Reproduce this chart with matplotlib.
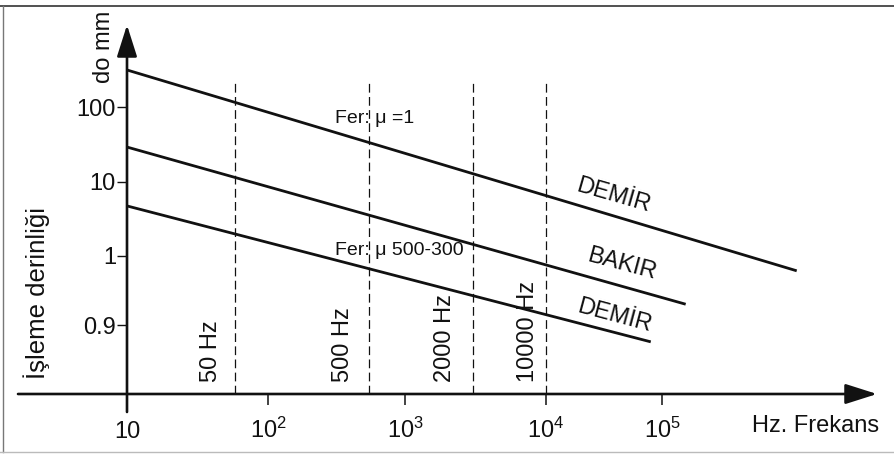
import numpy as np
import matplotlib
matplotlib.use('Agg')
from matplotlib import pyplot as plt
from matplotlib.lines import Line2D

plt.rcParams['font.family'] = ['Liberation Sans', 'DejaVu Sans']
plt.rcParams['mathtext.fontset'] = 'custom'
plt.rcParams['mathtext.rm'] = 'Liberation Sans'
plt.rcParams['mathtext.default'] = 'rm'

# skin depth lines (Hz, mm)
freq_start = [10, 10, 10]
freq_end = [1.45e6, 1.6e5, 8.0e4]
depth_start = [314, 29, 4.7]
depth_end = [0.61, 0.20, 0.057]
line_names = ['DEMİR', 'BAKIR', 'DEMİR']

# dashed frequency markers
mark_freq = [58, 546, 3035, 10000]
mark_labels = ['50 Hz', '500 Hz', '2000 Hz', '10000 Hz']
mark_top = 230
axis_depth = 0.01

x_ticks = [10, 1e2, 1e3, 1e4, 1e5]
x_tick_labels = ['10', '$10^2$', '$10^3$', '$10^4$', '$10^5$']
y_ticks = [0.1, 1, 10, 100]
y_tick_labels = ['0.9', '1', '10', '100']

# the decades in the drawing are not evenly spaced -> piecewise log scale
W, H = 894, 454
X_DEC = [0, 1, 2, 3, 4, 5, 7]
X_POS = [-14, 127, 268, 405, 546, 662, 894]
Y_DEC = [-3, -1, 0, 1, 2, 4]
Y_POS = [-9, 129, 198, 272.5, 347, 496]

def fwd_x(v):
    return np.interp(np.log10(np.maximum(v, 1e-12)), X_DEC, X_POS)

def inv_x(p):
    return 10 ** np.interp(p, X_POS, X_DEC)

def fwd_y(v):
    return np.interp(np.log10(np.maximum(v, 1e-12)), Y_DEC, Y_POS)

def inv_y(p):
    return 10 ** np.interp(p, Y_POS, Y_DEC)

def px(x, y):
    # pixel position of the scan -> axes fraction
    return x / W, 1 - y / H

fig = plt.figure(figsize=(W / 100, H / 100), dpi=100)
ax = fig.add_axes([0, 0, 1, 1])
ax.set_xscale('function', functions=(fwd_x, inv_x))
ax.set_yscale('function', functions=(fwd_y, inv_y))
ax.set_xlim(inv_x(0), inv_x(W))
ax.set_ylim(inv_y(0), inv_y(H))
for s in ax.spines.values():
    s.set_visible(False)
ax.spines['bottom'].set_position(('data', axis_depth))
ax.spines['left'].set_position(('data', 10))

ink = '#111111'
fs = 17
for i in range(3):
    ax.plot([freq_start[i], freq_end[i]], [depth_start[i], depth_end[i]],
            color=ink, lw=2.0, solid_capstyle='butt')

for f in mark_freq:
    ax.plot([f, f], [axis_depth, mark_top], color=ink, lw=0.9, ls=(0, (7, 3.5)))

# axes with arrow heads
arrow = dict(arrowstyle='-|>,head_length=1.95,head_width=0.62', lw=1.9,
             color=ink, mutation_scale=10, shrinkA=0, shrinkB=0)
ax.annotate('', xy=px(877, 394), xytext=px(18, 394), xycoords='axes fraction',
            arrowprops=arrow)
ax.annotate('', xy=px(127, 25), xytext=px(127, 412), xycoords='axes fraction',
            arrowprops=arrow)

ax.set_xticks(x_ticks, x_tick_labels, va='baseline', fontsize=fs, color=ink)
ax.set_yticks(y_ticks, y_tick_labels, fontsize=fs, color=ink)
ax.xaxis.set_minor_locator(matplotlib.ticker.NullLocator())
ax.yaxis.set_minor_locator(matplotlib.ticker.NullLocator())
ax.tick_params(axis='x', direction='out', length=8, width=1.1, pad=23.5, colors=ink)
ax.tick_params(axis='y', direction='out', length=7, width=1.0, pad=1, colors=ink)

T = ax.transAxes
ax.text(*px(37, 293), 'İşleme derinliği', transform=T, rotation=90,
        ha='center', va='center', fontsize=18.5, color=ink)
ax.text(*px(104, 47), 'do mm', transform=T, rotation=90,
        ha='center', va='center', fontsize=fs, color=ink)
ax.text(*px(752, 432), 'Hz. Frekans', transform=T, ha='left', va='baseline',
        fontsize=fs, color=ink)

ax.text(*px(335, 123), 'Fer: μ =1', transform=T, ha='left', va='baseline',
        fontsize=14, color=ink)
ax.text(*px(335, 255), 'Fer: μ 500-300', transform=T, ha='left', va='baseline',
        fontsize=14, color=ink)

name_pos = [(613, 196), (622, 264), (614, 316)]
name_rot = [-16, -15, -15]
for name, (x, y), r in zip(line_names, name_pos, name_rot):
    ax.text(*px(x, y), name, transform=T, rotation=r, rotation_mode='anchor',
            ha='center', va='center', fontsize=fs, color=ink)

mark_x = [211, 343, 445, 528]
for lab, x in zip(mark_labels, mark_x):
    ax.text(*px(x, 382), lab, transform=T, rotation=90, ha='center', va='bottom',
            fontsize=fs, color=ink)

# scan frame
fig.add_artist(Line2D([0, 1], [1 - 6 / H, 1 - 6 / H], color='#333333', lw=1.2))
fig.add_artist(Line2D([3 / W, 3 / W], [1 - 6 / H, 2 / H], color='#777777', lw=1.0))
fig.add_artist(Line2D([0, 1], [2 / H, 2 / H], color='#bbbbbb', lw=1.0))

fig.savefig('out.png', dpi=100)
